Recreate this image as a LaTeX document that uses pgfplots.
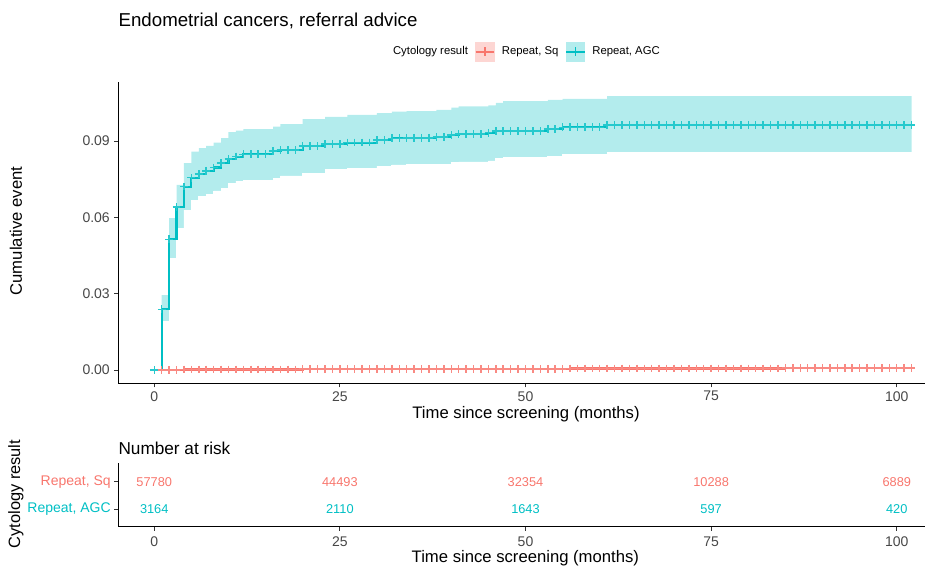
\documentclass[border=0pt]{standalone}
\usepackage{fontspec}
\setmainfont{Liberation Sans}
\usepackage{pgfplots}
\pgfplotsset{compat=1.18}
\usepackage{pgfplotstable}
\definecolor{sq}{HTML}{F8766D}
\definecolor{agc}{HTML}{00BFC4}
\definecolor{sqband}{RGB}{253,214,211}
\definecolor{agcband}{RGB}{179,236,237}
\definecolor{tickgrey}{HTML}{333333}

\pgfplotstableread{
x agc lo hi sq
0 0 0 0 0
1 0.0239 0.0190 0.0295 0
2 0.0514 0.0439 0.0597 0
3 0.0640 0.0558 0.0728 0
4 0.0721 0.0629 0.0813 0.0002
5 0.0756 0.0668 0.0859 0.0002
6 0.0770 0.0681 0.0872 0.0002
7 0.0783 0.0691 0.0881 0.0002
8 0.0796 0.0704 0.0894 0.0002
9 0.0813 0.0715 0.0912 0.0002
10 0.0829 0.0735 0.0935 0.0002
11 0.0839 0.0743 0.0941 0.0002
12 0.0848 0.0747 0.0947 0.0002
13 0.0848 0.0747 0.0947 0.0002
14 0.0848 0.0747 0.0947 0.0002
15 0.0848 0.0747 0.0947 0.0002
16 0.0861 0.0754 0.0957 0.0002
17 0.0865 0.0763 0.0967 0.0002
18 0.0865 0.0763 0.0967 0.0002
19 0.0865 0.0763 0.0967 0.0002
20 0.0881 0.0774 0.0986 0.0004
21 0.0881 0.0774 0.0986 0.0004
22 0.0881 0.0774 0.0986 0.0004
23 0.0889 0.0787 0.0995 0.0004
24 0.0889 0.0787 0.0995 0.0004
25 0.0889 0.0787 0.0995 0.0004
26 0.0894 0.0794 0.1003 0.0004
27 0.0894 0.0794 0.1003 0.0004
28 0.0894 0.0794 0.1003 0.0004
29 0.0894 0.0794 0.1003 0.0004
30 0.0904 0.0802 0.1010 0.0004
31 0.0904 0.0802 0.1010 0.0004
32 0.0911 0.0806 0.1016 0.0004
33 0.0911 0.0806 0.1016 0.0004
34 0.0913 0.0808 0.1018 0.0004
35 0.0913 0.0808 0.1018 0.0004
36 0.0913 0.0808 0.1018 0.0004
37 0.0913 0.0808 0.1018 0.0004
38 0.0916 0.0809 0.1023 0.0004
39 0.0916 0.0809 0.1023 0.0004
40 0.0923 0.0816 0.1031 0.0004
41 0.0927 0.0818 0.1036 0.0004
42 0.0927 0.0818 0.1036 0.0004
43 0.0927 0.0818 0.1036 0.0004
44 0.0927 0.0818 0.1036 0.0004
45 0.0933 0.0822 0.1040 0.0004
46 0.0939 0.0832 0.1050 0.0004
47 0.0939 0.0834 0.1057 0.0004
48 0.0939 0.0834 0.1057 0.0004
49 0.0939 0.0834 0.1057 0.0004
50 0.0939 0.0834 0.1057 0.0004
51 0.0939 0.0834 0.1057 0.0004
52 0.0939 0.0834 0.1057 0.0004
53 0.0947 0.0841 0.1062 0.0004
54 0.0947 0.0841 0.1062 0.0004
55 0.0954 0.0848 0.1066 0.0004
56 0.0954 0.0848 0.1066 0.0006
57 0.0954 0.0848 0.1066 0.0006
58 0.0954 0.0848 0.1066 0.0006
59 0.0954 0.0848 0.1066 0.0006
60 0.0954 0.0848 0.1066 0.0006
61 0.0963 0.0856 0.1077 0.0006
62 0.0963 0.0856 0.1077 0.0006
63 0.0963 0.0856 0.1077 0.0006
64 0.0963 0.0856 0.1077 0.0006
65 0.0963 0.0856 0.1077 0.0006
66 0.0963 0.0856 0.1077 0.0006
67 0.0963 0.0856 0.1077 0.0006
68 0.0963 0.0856 0.1077 0.0006
69 0.0963 0.0856 0.1077 0.0006
70 0.0963 0.0856 0.1077 0.0006
71 0.0963 0.0856 0.1077 0.0006
72 0.0963 0.0856 0.1077 0.0006
73 0.0963 0.0856 0.1077 0.0006
74 0.0963 0.0856 0.1077 0.0006
75 0.0963 0.0856 0.1077 0.0006
76 0.0963 0.0856 0.1077 0.0006
77 0.0963 0.0856 0.1077 0.0006
78 0.0963 0.0856 0.1077 0.0006
79 0.0963 0.0856 0.1077 0.0006
80 0.0963 0.0856 0.1077 0.0006
81 0.0963 0.0856 0.1077 0.0006
82 0.0963 0.0856 0.1077 0.0006
83 0.0963 0.0856 0.1077 0.0006
84 0.0963 0.0856 0.1077 0.0006
85 0.0963 0.0856 0.1077 0.0008
86 0.0963 0.0856 0.1077 0.0008
87 0.0963 0.0856 0.1077 0.0008
88 0.0963 0.0856 0.1077 0.0008
89 0.0963 0.0856 0.1077 0.0008
90 0.0963 0.0856 0.1077 0.0008
91 0.0963 0.0856 0.1077 0.0008
92 0.0963 0.0856 0.1077 0.0008
93 0.0963 0.0856 0.1077 0.0008
94 0.0963 0.0856 0.1077 0.0008
95 0.0963 0.0856 0.1077 0.0008
96 0.0963 0.0856 0.1077 0.0008
97 0.0963 0.0856 0.1077 0.0008
98 0.0963 0.0856 0.1077 0.0008
99 0.0963 0.0856 0.1077 0.0008
100 0.0963 0.0856 0.1077 0.0008
101 0.0963 0.0856 0.1077 0.0008
102 0.0963 0.0856 0.1077 0.0008
}\km

\pgfplotstableread{
x y n
0 2 57780
25 2 44493
50 2 32354
75 2 10288
100 2 6889
}\risksq

\pgfplotstableread{
x y n
0 1 3164
25 1 2110
50 1 1643
75 1 597
100 1 420
}\riskagc

\pgfplotsset{
  ggaxis/.style={
    scale only axis, width=605pt,
    xmin=-4.84, xmax=103.8,
    axis x line*=bottom, axis y line*=left,
    axis line style={black, line width=0.8pt, -},
    tick align=outside, major tick length=3pt,
    tick style={tickgrey, line width=0.8pt},
    xtick={0,25,50,75,100},
    ticklabel style={font=\fontsize{10.5}{12}\selectfont, text=black!72, inner sep=0pt},
    /pgf/number format/assume math mode=true,
  },
}

\begin{document}
\begin{tikzpicture}
\path[use as bounding box] (0pt,0pt) rectangle (697.5pt,-427.5pt);

\node[anchor=base west, inner sep=0pt, font=\fontsize{14}{16}\selectfont] at (88.8pt,-20.1pt) {Endometrial cancers, referral advice};

\begin{axis}[ggaxis,
  at={(88.725pt,-287.475pt)}, anchor=south west, height=225.75pt,
  ymin=-0.0052, ymax=0.1131,
  ytick={0,0.03,0.06,0.09}, scaled y ticks=false,
  yticklabel style={/pgf/number format/fixed, /pgf/number format/fixed zerofill, /pgf/number format/precision=2, xshift=-3.2pt},
  xticklabel style={yshift=-2.8pt},
  legend columns=-1,
  legend style={draw=none, fill=none, at={(0.3270,1.1017)}, anchor=west,
    font=\fontsize{8.5}{10}\selectfont,
    /tikz/every odd column/.append style={column sep=3pt},
    /tikz/every even column/.append style={column sep=3pt}},
]
\addlegendimage{empty legend}
\addlegendentry{Cytology result}
\addlegendimage{legend image code/.code={
  \fill[sqband] (0pt,-7.1pt) rectangle (13.9pt,7.1pt);
  \draw[sq, line width=1.5pt] (0pt,0pt) -- (13.9pt,0pt);
  \draw[sq, line width=1.1pt] (6.95pt,-3.2pt) -- (6.95pt,3.2pt);}}
\addlegendentry{Repeat, Sq}
\addlegendimage{legend image code/.code={
  \fill[agcband] (0pt,-7.1pt) rectangle (13.9pt,7.1pt);
  \draw[agc, line width=1.5pt] (0pt,0pt) -- (13.9pt,0pt);
  \draw[agc, line width=1.1pt] (6.95pt,-3.2pt) -- (6.95pt,3.2pt);}}
\addlegendentry{Repeat, AGC}

\addplot[const plot, fill=agcband, draw=none, forget plot] table[x=x, y=hi] {\km} \closedcycle;
\addplot[const plot, fill=white, draw=white, line width=0.6pt, forget plot] table[x=x, y=lo] {\km} \closedcycle;

\addplot[const plot, sq, line width=1.6pt, mark=+, mark size=2.9pt, mark options={line width=1.1pt, solid, sq!85!white}, forget plot] table[x=x, y=sq] {\km};
\addplot[const plot, agc, line width=1.6pt, mark=+, mark size=2.9pt, mark options={line width=1.1pt, solid, agc!85!white}, forget plot] table[x=x, y=agc] {\km};
\end{axis}

\node[font=\fontsize{12.5}{14}\selectfont, rotate=90] at (12pt,-173.25pt) {Cumulative event};
\node[font=\fontsize{12.5}{14}\selectfont] at (394.5pt,-310.5pt) {Time since screening (months)};

\node[anchor=base west, inner sep=0pt, font=\fontsize{12.9}{15}\selectfont] at (88.7pt,-340.5pt) {Number at risk};

\begin{axis}[ggaxis,
  at={(88.725pt,-395.025pt)}, anchor=south west, height=47.55pt,
  ymin=0.37, ymax=2.667,
  ytick={1,2},
  yticklabels={{\textcolor{agc}{Repeat, AGC}},{\textcolor{sq}{Repeat, Sq}}},
  yticklabel style={xshift=-2.5pt},
  xticklabel style={yshift=-4.5pt},
]
\addplot[only marks, mark=none, nodes near coords, point meta=explicit symbolic,
  nodes near coords style={anchor=center, font=\fontsize{9.6}{11}\selectfont, text=sq}] table[x=x, y=y, meta=n] {\risksq};
\addplot[only marks, mark=none, nodes near coords, point meta=explicit symbolic,
  nodes near coords style={anchor=center, font=\fontsize{9.6}{11}\selectfont, text=agc}] table[x=x, y=y, meta=n] {\riskagc};
\end{axis}

\node[font=\fontsize{12.3}{14}\selectfont, rotate=90] at (12pt,-370.5pt) {Cytology result};
\node[font=\fontsize{12.5}{14}\selectfont] at (394pt,-418.5pt) {Time since screening (months)};
\end{tikzpicture}
\end{document}
